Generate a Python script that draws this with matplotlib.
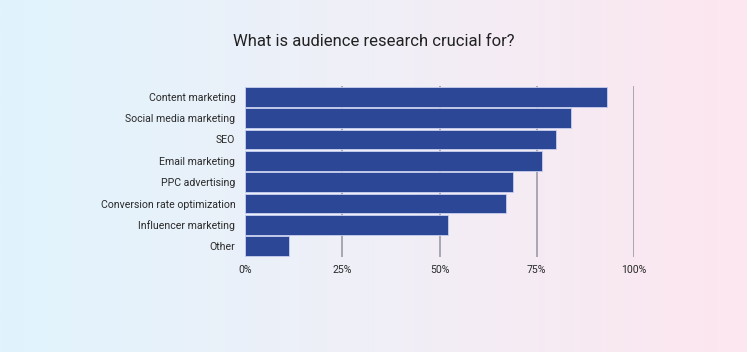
import numpy as np
import matplotlib
matplotlib.use("Agg")
import matplotlib.pyplot as plt
from matplotlib.colors import LinearSegmentedColormap

categories = ["Content marketing", "Social media marketing", "SEO", "Email marketing",
              "PPC advertising", "Conversion rate optimization", "Influencer marketing", "Other"]
values = [93, 83.8, 79.9, 76.3, 68.9, 67, 52.1, 11.3]
ticks = [0, 25, 50, 75, 100]
tick_labels = ["0%", "25%", "50%", "75%", "100%"]

plt.rcParams['font.family'] = ['Roboto', 'DejaVu Sans']

W, H = 747, 352
fig = plt.figure(figsize=(W / 100, H / 100), dpi=100)

# background gradient, blue-ish on the left to pink on the right
bg = fig.add_axes([0, 0, 1, 1], zorder=0)
cmap = LinearSegmentedColormap.from_list("bg", ["#e0f4fd", "#f0eff7", "#fde6ef"])
bg.imshow(np.linspace(0, 1, 256)[None, :], aspect="auto", cmap=cmap, extent=[0, 1, 0, 1])
bg.axis("off")

left, right = 245 / W, 634 / W
top, bottom = 1 - 86 / H, 1 - 257 / H
ax = fig.add_axes([left, bottom, right - left, top - bottom], zorder=1)
ax.patch.set_alpha(0)

y = np.arange(len(categories))
ax.barh(y, values, height=0.92, color="#2d4797", edgecolor="#c8cff0",
        linewidth=0.6, zorder=3)
ax.set_ylim(len(categories) - 0.5, -0.5)
ax.set_xlim(0, 100)
ax.set_yticks(y)
ax.set_yticklabels(categories, fontsize=7.6, color="#2a2a2a")
ax.set_xticks(ticks)
ax.set_xticklabels(tick_labels, fontsize=7.6, color="#2a2a2a")
ax.tick_params(length=0, pad=7)
ax.tick_params(axis="x", pad=6)
for t in ticks[1:]:
    ax.axvline(t, color="#a8a8b2", linewidth=1.4, zorder=1)
for s in ax.spines.values():
    s.set_visible(False)

fig.text(0.5, 1 - 41 / H, "What is audience research crucial for?", ha="center", va="center",
         fontsize=12, color="#222222")

fig.savefig("out.png", dpi=100)
